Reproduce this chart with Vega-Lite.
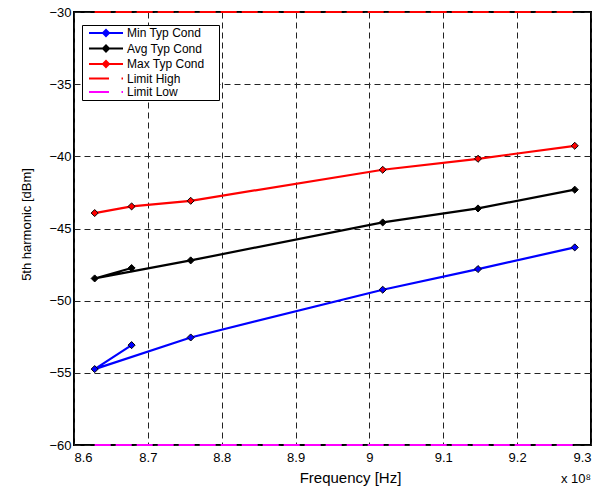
{
  "$schema": "https://vega.github.io/schema/vega-lite/v6.json",
  "width": 517,
  "height": 433,
  "autosize": {"type": "none"},
  "padding": {"left": 74, "top": 12, "right": 19, "bottom": 42},
  "config": {
    "view": {"stroke": "black", "strokeWidth": 2},
    "font": "Liberation Sans"
  },
  "title": {
    "text": "x 10\u2078",
    "orient": "bottom",
    "anchor": "end",
    "font": "Liberation Sans",
    "fontSize": 13,
    "fontWeight": "normal",
    "color": "black",
    "offset": 0,
    "dy": -12
  },
  "data": {
    "values": [
      {"series": "Min Typ Cond", "ord": 1, "freq": 867800000, "value": -53.08},
      {"series": "Min Typ Cond", "ord": 2, "freq": 862800000, "value": -54.74},
      {"series": "Min Typ Cond", "ord": 3, "freq": 875800000, "value": -52.55},
      {"series": "Min Typ Cond", "ord": 4, "freq": 901800000, "value": -49.24},
      {"series": "Min Typ Cond", "ord": 5, "freq": 914700000, "value": -47.81},
      {"series": "Min Typ Cond", "ord": 6, "freq": 927800000, "value": -46.31},
      {"series": "Avg Typ Cond", "ord": 1, "freq": 867800000, "value": -47.74},
      {"series": "Avg Typ Cond", "ord": 2, "freq": 862800000, "value": -48.46},
      {"series": "Avg Typ Cond", "ord": 3, "freq": 875800000, "value": -47.21},
      {"series": "Avg Typ Cond", "ord": 4, "freq": 901800000, "value": -44.58},
      {"series": "Avg Typ Cond", "ord": 5, "freq": 914700000, "value": -43.61},
      {"series": "Avg Typ Cond", "ord": 6, "freq": 927800000, "value": -42.31},
      {"series": "Max Typ Cond", "ord": 1, "freq": 862800000, "value": -43.93},
      {"series": "Max Typ Cond", "ord": 2, "freq": 867800000, "value": -43.47},
      {"series": "Max Typ Cond", "ord": 3, "freq": 875800000, "value": -43.08},
      {"series": "Max Typ Cond", "ord": 4, "freq": 901800000, "value": -40.93},
      {"series": "Max Typ Cond", "ord": 5, "freq": 914700000, "value": -40.17},
      {"series": "Max Typ Cond", "ord": 6, "freq": 927800000, "value": -39.27},
      {"series": "Limit High", "ord": 1, "freq": 862800000, "value": -30},
      {"series": "Limit High", "ord": 2, "freq": 927800000, "value": -30},
      {"series": "Limit Low", "ord": 1, "freq": 862800000, "value": -60},
      {"series": "Limit Low", "ord": 2, "freq": 927800000, "value": -60}
    ]
  },
  "encoding": {
    "x": {
      "field": "freq",
      "type": "quantitative",
      "scale": {"domain": [860000000, 930000000], "nice": false, "zero": false},
      "axis": {
        "values": [860000000, 870000000, 880000000, 890000000, 900000000, 910000000, 920000000, 930000000],
        "labelExpr": "format(datum.value / 100000000, '.1~f')",
        "title": "Frequency [Hz]",
        "titleFont": "Liberation Sans",
        "titleFontSize": 15,
        "titleFontWeight": "normal",
        "titleColor": "black",
        "titleBaseline": "alphabetic",
        "titleX": 276,
        "titleY": 37,
        "labelFont": "Liberation Sans",
        "labelFontSize": 13,
        "labelColor": "black",
        "labelPadding": 6,
        "labelFlush": true,
        "ticks": false,
        "domain": false,
        "grid": true,
        "gridColor": "#222222",
        "gridDash": [6, 4],
        "gridWidth": 1,
        "gridOpacity": 1
      }
    },
    "y": {
      "field": "value",
      "type": "quantitative",
      "scale": {"domain": [-60, -30], "nice": false, "zero": false},
      "axis": {
        "values": [-60, -55, -50, -45, -40, -35, -30],
        "title": "5th harmonic [dBm]",
        "titleFont": "Liberation Sans",
        "titleFontSize": 13,
        "titleFontWeight": "normal",
        "titleColor": "black",
        "titlePadding": 15,
        "titleY": 212,
        "labelFont": "Liberation Sans",
        "labelFontSize": 13,
        "labelColor": "black",
        "labelPadding": 3,
        "ticks": false,
        "domain": false,
        "grid": true,
        "gridColor": "#222222",
        "gridDash": [6, 4],
        "gridWidth": 1,
        "gridOpacity": 1
      }
    },
    "color": {
      "field": "series",
      "type": "nominal",
      "scale": {
        "domain": ["Min Typ Cond", "Avg Typ Cond", "Max Typ Cond", "Limit High", "Limit Low"],
        "range": ["#0000ff", "#000000", "#ff0000", "#ff0000", "#ff00ff"]
      },
      "legend": {
        "orient": "none",
        "legendX": 8,
        "legendY": 13,
        "title": null,
        "strokeColor": "black",
        "fillColor": "white",
        "padding": 2,
        "rowPadding": 1.5,
        "labelFont": "Liberation Sans",
        "labelFontSize": 12,
        "labelColor": "black",
        "labelOffset": 31,
        "labelExpr": "datum.label + '\u00a0\u2800'",
        "symbolSize": 100,
        "symbolStrokeWidth": 2,
        "encode": {
          "symbols": {
            "update": {
              "shape": {"signal": "indexof(datum.value, 'Limit') >= 0 ? 'M-0.2,0H3.8M6.3,0H6.6' : 'M-0.2,0H6.6M2.6,0L3.2,-0.6L3.8,0L3.2,0.6Z'"},
              "fill": {"scale": "color", "field": "value"},
              "stroke": {"scale": "color", "field": "value"},
              "strokeWidth": {"value": 2},
              "opacity": {"value": 1},
              "fillOpacity": {"value": 1}
            }
          }
        }
      }
    }
  },
  "layer": [
    {
      "transform": [{"filter": "indexof(datum.series, 'Limit') < 0"}],
      "mark": {"type": "line", "strokeWidth": 2.2, "clip": false},
      "encoding": {"order": {"field": "ord", "type": "quantitative"}}
    },
    {
      "transform": [{"filter": "indexof(datum.series, 'Limit') >= 0"}],
      "mark": {"type": "line", "strokeWidth": 2.2, "strokeDash": [16, 5], "clip": false},
      "encoding": {"order": {"field": "ord", "type": "quantitative"}}
    },
    {
      "transform": [{"filter": "indexof(datum.series, 'Limit') < 0"}],
      "mark": {"type": "point", "shape": "diamond", "filled": true, "size": 50, "stroke": "black", "strokeWidth": 1, "opacity": 1, "clip": false}
    }
  ]
}
